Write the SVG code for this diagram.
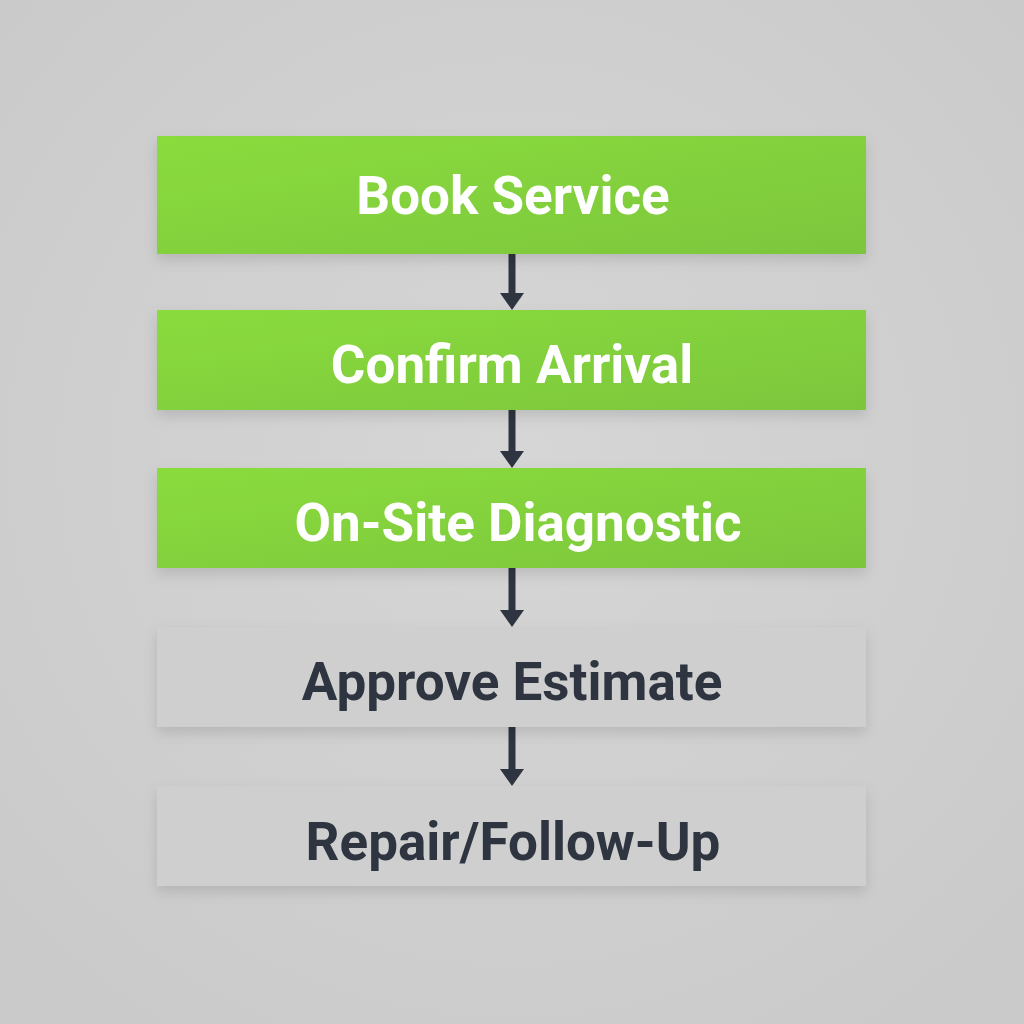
<svg xmlns="http://www.w3.org/2000/svg" width="1024" height="1024" viewBox="0 0 1024 1024">
<defs>
<radialGradient id="bg" cx="50%" cy="45%" r="75%">
<stop offset="0" stop-color="#d6d6d6"/>
<stop offset="1" stop-color="#c9c9c9"/>
</radialGradient>
<linearGradient id="green" x1="0" y1="0" x2="1" y2="1">
<stop offset="0" stop-color="#8adc3c"/>
<stop offset="1" stop-color="#7cc63c"/>
</linearGradient>
<filter id="sh" x="-10%" y="-30%" width="120%" height="170%">
<feDropShadow dx="0" dy="6" stdDeviation="7" flood-color="#000" flood-opacity="0.12"/>
</filter>
</defs>
<style>
.g{fill:url(#green);filter:url(#sh)}
.n{fill:#cfcfcf;filter:url(#sh)}
.t{font-family:Roboto,"Liberation Sans",sans-serif;font-weight:700;font-size:53px;text-anchor:middle}
.w{fill:#ffffff}
.d{fill:#2e3540}
.c{stroke:#2e3540;stroke-width:7;fill:none}
.h{fill:#2e3540}
</style>
<rect width="1024" height="1024" fill="url(#bg)"/>
<g id="connectors">
<line class="c" x1="512" y1="254" x2="512" y2="296"/>
<path class="h" d="M500,293 L524,293 L512,310 Z"/>
<line class="c" x1="512" y1="410" x2="512" y2="454"/>
<path class="h" d="M500,451 L524,451 L512,468 Z"/>
<line class="c" x1="512" y1="568" x2="512" y2="613"/>
<path class="h" d="M500,610 L524,610 L512,627 Z"/>
<line class="c" x1="512" y1="727" x2="512" y2="772"/>
<path class="h" d="M500,769 L524,769 L512,786 Z"/>
</g>
<g id="node1">
<rect class="g" x="157" y="136" width="709" height="118"/>
<text class="t w" x="513" y="214">Book Service</text>
</g>
<g id="node2">
<rect class="g" x="157" y="310" width="709" height="100"/>
<text class="t w" x="512" y="383">Confirm Arrival</text>
</g>
<g id="node3">
<rect class="g" x="157" y="468" width="709" height="100"/>
<text class="t w" x="518" y="541">On-Site Diagnostic</text>
</g>
<g id="node4">
<rect class="n" x="157" y="627" width="709" height="100"/>
<text class="t d" x="512" y="700">Approve Estimate</text>
</g>
<g id="node5">
<rect class="n" x="157" y="786" width="709" height="100"/>
<text class="t d" x="513" y="860">Repair/Follow-Up</text>
</g>
</svg>
